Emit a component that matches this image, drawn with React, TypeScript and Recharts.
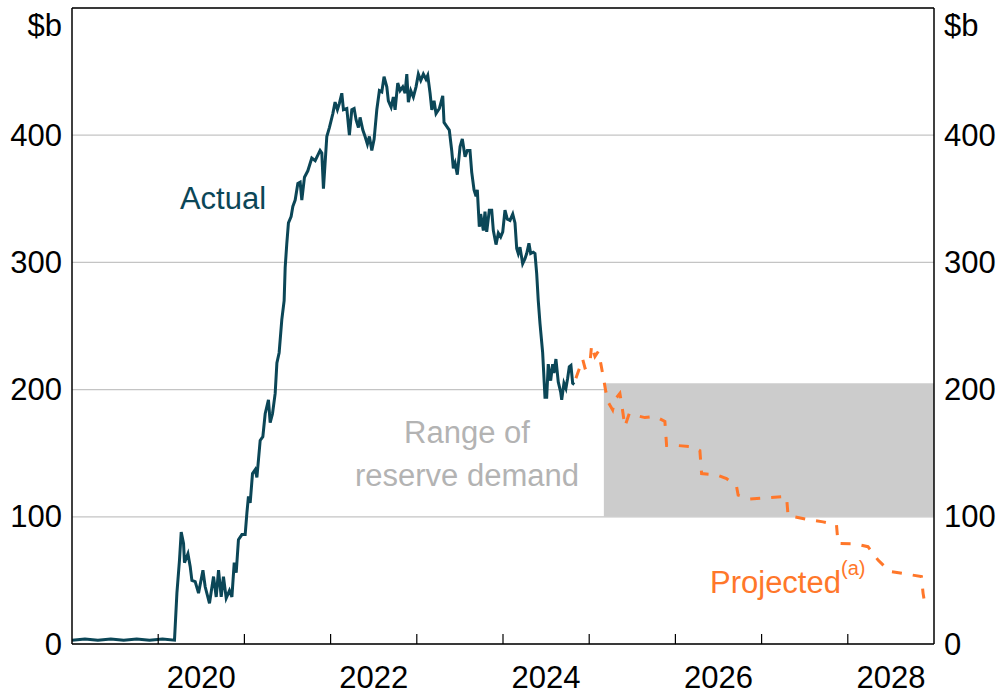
import React from "react";
import {
  ComposedChart, Line, XAxis, YAxis, CartesianGrid, ReferenceArea, ReferenceLine,
} from "recharts";

// [decimal year, $b]
const actual: [number, number][] = [
  [2019.0, 3], [2019.15, 4], [2019.3, 3], [2019.45, 4], [2019.6, 3], [2019.75, 4], [2019.9, 3], [2020.05, 4],
  [2020.189, 3], [2020.217, 40], [2020.247, 66], [2020.267, 88], [2020.294, 79], [2020.305, 64],
  [2020.345, 71], [2020.371, 61], [2020.391, 50], [2020.429, 49], [2020.468, 40], [2020.519, 58],
  [2020.545, 45], [2020.595, 32], [2020.642, 53], [2020.673, 37], [2020.7, 58], [2020.731, 37],
  [2020.757, 53], [2020.789, 36], [2020.827, 42], [2020.855, 37], [2020.882, 64], [2020.905, 56],
  [2020.931, 82], [2020.971, 86], [2021.009, 86], [2021.029, 103], [2021.047, 116], [2021.067, 111],
  [2021.094, 134], [2021.125, 137], [2021.145, 131], [2021.183, 160], [2021.214, 163], [2021.241, 181],
  [2021.279, 192], [2021.299, 174], [2021.326, 181], [2021.357, 197], [2021.377, 221], [2021.403, 229],
  [2021.434, 255], [2021.461, 270], [2021.473, 296], [2021.492, 315], [2021.511, 331], [2021.542, 336],
  [2021.562, 344], [2021.589, 349], [2021.62, 362], [2021.647, 363], [2021.666, 349], [2021.697, 367],
  [2021.736, 372], [2021.782, 382], [2021.821, 380], [2021.878, 388], [2021.898, 386], [2021.917, 358],
  [2021.956, 399], [2021.986, 406], [2022.026, 417], [2022.052, 426], [2022.079, 420], [2022.102, 425],
  [2022.13, 433], [2022.149, 420], [2022.188, 421], [2022.218, 400], [2022.246, 420], [2022.273, 421],
  [2022.296, 412], [2022.323, 406], [2022.342, 414], [2022.374, 404], [2022.4, 399], [2022.427, 393],
  [2022.45, 399], [2022.478, 388], [2022.505, 397], [2022.536, 420], [2022.566, 435], [2022.594, 434],
  [2022.62, 446], [2022.652, 438], [2022.67, 427], [2022.702, 422], [2022.728, 430], [2022.748, 420],
  [2022.779, 441], [2022.806, 435], [2022.837, 438], [2022.864, 433], [2022.884, 448], [2022.902, 426],
  [2022.93, 435], [2022.96, 430], [2022.991, 438], [2023.018, 448], [2023.046, 443], [2023.076, 448],
  [2023.107, 444], [2023.127, 447], [2023.154, 433], [2023.174, 420], [2023.2, 427], [2023.223, 417],
  [2023.262, 421], [2023.301, 431], [2023.316, 410], [2023.347, 407], [2023.377, 404], [2023.405, 388],
  [2023.424, 374], [2023.444, 378], [2023.47, 369], [2023.502, 391], [2023.528, 397], [2023.56, 383],
  [2023.586, 388], [2023.617, 388], [2023.637, 371], [2023.664, 357], [2023.687, 352], [2023.702, 357],
  [2023.725, 328], [2023.741, 338], [2023.772, 325], [2023.791, 340], [2023.811, 324], [2023.841, 341],
  [2023.869, 341], [2023.888, 325], [2023.919, 314], [2023.946, 323], [2023.973, 320], [2023.997, 324],
  [2024.023, 341], [2024.05, 334], [2024.081, 333], [2024.113, 338], [2024.139, 331], [2024.159, 311],
  [2024.177, 307], [2024.197, 312], [2024.228, 299], [2024.255, 303], [2024.275, 307], [2024.301, 315],
  [2024.321, 307], [2024.351, 308], [2024.371, 307], [2024.391, 291], [2024.409, 270], [2024.429, 252],
  [2024.46, 229], [2024.487, 194], [2024.507, 194], [2024.525, 220], [2024.553, 207], [2024.576, 220],
  [2024.591, 213], [2024.614, 224], [2024.641, 206], [2024.669, 198], [2024.681, 192], [2024.707, 205],
  [2024.73, 201], [2024.75, 209], [2024.769, 218], [2024.788, 219], [2024.808, 205], [2024.827, 204],
];

const projected: [number, number][] = [
  [2024.846, 209], [2024.893, 218], [2024.924, 224], [2024.951, 217], [2024.989, 218], [2025.009, 221],
  [2025.028, 235], [2025.067, 226], [2025.105, 230], [2025.133, 221], [2025.163, 210], [2025.194, 198],
  [2025.221, 190], [2025.272, 184], [2025.298, 192], [2025.356, 197], [2025.376, 189], [2025.414, 171],
  [2025.464, 181], [2025.646, 178], [2025.762, 179], [2025.878, 175], [2025.898, 156], [2026.032, 156],
  [2026.206, 155], [2026.284, 152], [2026.304, 134], [2026.477, 133], [2026.593, 130], [2026.709, 124],
  [2026.728, 117], [2026.863, 114], [2027.289, 116], [2027.307, 101], [2027.521, 98], [2027.713, 96],
  [2027.869, 93.5], [2027.887, 79], [2028.1, 78.6], [2028.234, 76.5], [2028.351, 66], [2028.487, 57],
  [2028.68, 55], [2028.854, 53], [2028.873, 40], [2028.892, 32],
];

const reserveRange = { from: 2025.17, to: 2029, low: 100, high: 205 };
const yearTicks = [2020, 2021, 2022, 2023, 2024, 2025, 2026, 2027, 2028];
const valueTicks = [0, 100, 200, 300, 400, 500];

const actualData = actual.map(([t, v]) => ({ t, v }));
const projectedData = projected.map(([t, v]) => ({ t, v }));

const W = 1000;
const H = 694;
const LEFT_W = 72;
const RIGHT_W = 66;
const X_MIN = 2019;
const X_MAX = 2029;
const PLOT_W = W - LEFT_W - RIGHT_W;
const HALF_YEAR = PLOT_W / (X_MAX - X_MIN) / 2;
const LABEL_GAP = 10;

const FONT = "'Liberation Sans', Arial, sans-serif";
const FS = 31;
const TEAL = "#0b4657";
const ORANGE = "#ff772a";

// year boundary tick (pointing inward) + label centred on the even years
const XTick = (props: any) => {
  const { x, y, payload } = props;
  return (
    <g>
      <line x1={x} x2={x} y1={y} y2={y - 10} stroke="#000" strokeWidth={1.2} />
      {payload.value % 2 === 0 && (
        <text x={x + HALF_YEAR} y={y + 33} textAnchor="middle" dominantBaseline="central"
          fontFamily={FONT} fontSize={FS} fill="#000">
          {payload.value}
        </text>
      )}
    </g>
  );
};

// draws the label on both sides of the plot (left axis + mirrored right axis)
const YTick = (props: any) => {
  const { x, y, payload } = props;
  const top = payload.value === 500;
  const ty = top ? y + 17 : y;
  const label = top ? "$b" : String(payload.value);
  const rx = x + LABEL_GAP + PLOT_W + LABEL_GAP;
  return (
    <g fontFamily={FONT} fontSize={FS} fill="#000">
      <text x={x} y={ty} textAnchor="end" dominantBaseline="central">{label}</text>
      <text x={rx} y={ty} textAnchor="start" dominantBaseline="central">{label}</text>
    </g>
  );
};

export default function App() {
  return (
    <div style={{ position: "absolute", left: 0, top: 0, width: W, height: H, background: "#fff" }}>
      <ComposedChart width={W} height={H} margin={{ top: 8, right: RIGHT_W, bottom: 0, left: 0 }}>
        <CartesianGrid horizontal vertical={false} stroke="#c4c4c4" strokeWidth={1.2} />
        <XAxis
          type="number" dataKey="t" domain={[X_MIN, X_MAX]} ticks={yearTicks}
          allowDataOverflow height={50} tickSize={0} tickMargin={0} tickLine={false}
          axisLine={{ stroke: "#000", strokeWidth: 1.5 }} tick={<XTick />} interval={0}
        />
        <YAxis
          domain={[0, 500]} ticks={valueTicks} width={LEFT_W} tickSize={0} tickMargin={LABEL_GAP}
          tickLine={false} axisLine={{ stroke: "#000", strokeWidth: 1.5 }} tick={<YTick />} interval={0}
        />
        <ReferenceArea
          x1={reserveRange.from} x2={reserveRange.to} y1={reserveRange.low} y2={reserveRange.high}
          fill="#cccccc" fillOpacity={1} stroke="none" ifOverflow="hidden"
        />
        <ReferenceLine y={500} stroke="#000" strokeWidth={1.5} />
        <ReferenceLine x={X_MAX} stroke="#000" strokeWidth={1.5} />
        <Line data={actualData} dataKey="v" type="linear" stroke={TEAL} strokeWidth={3}
          dot={false} isAnimationActive={false} />
        <Line data={projectedData} dataKey="v" type="linear" stroke={ORANGE} strokeWidth={3}
          strokeDasharray="10 11" dot={false} isAnimationActive={false} />
      </ComposedChart>
      <svg width={W} height={H} style={{ position: "absolute", left: 0, top: 0, pointerEvents: "none" }}
        fontFamily={FONT} fontSize={FS}>
        <text x={223} y={209} textAnchor="middle" fill={TEAL}>Actual</text>
        <text x={467} y={443} textAnchor="middle" fill="#b3b3b3">Range of</text>
        <text x={467} y={486} textAnchor="middle" fill="#b3b3b3">reserve demand</text>
        <text x={710} y={593} fill={ORANGE}>
          Projected
          <tspan fontSize={20} dy={-18}>(a)</tspan>
        </text>
      </svg>
    </div>
  );
}
